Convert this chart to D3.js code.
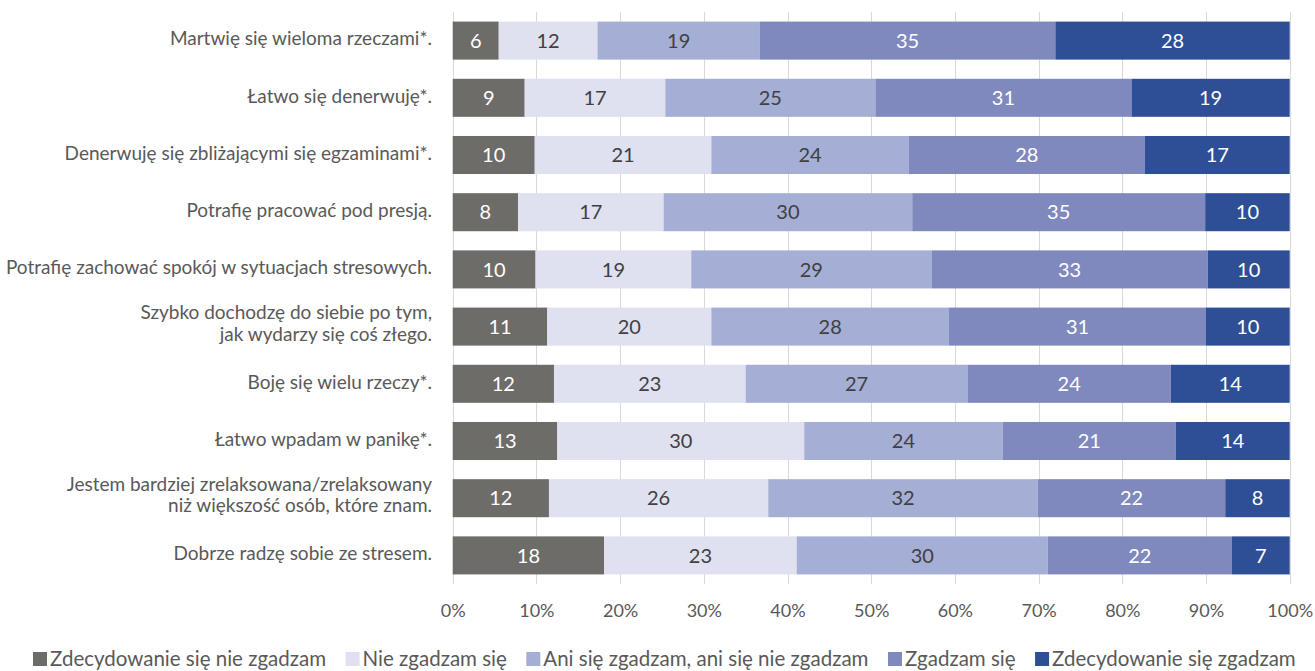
<!DOCTYPE html>
<html>
<head>
<meta charset="utf-8">
<script src="https://cdn.jsdelivr.net/npm/d3@7"></script>
<style>
  html, body { margin: 0; padding: 0; background: #ffffff; }
  svg { display: block; }
</style>
</head>
<body>
<svg id="chart" width="1315" height="671"></svg>
<script>
// ---- Data ----
const categories = [
  ["Martwię się wieloma rzeczami*."],
  ["Łatwo się denerwuję*."],
  ["Denerwuję się zbliżającymi się egzaminami*."],
  ["Potrafię pracować pod presją."],
  ["Potrafię zachować spokój w sytuacjach stresowych."],
  ["Szybko dochodzę do siebie po tym,", "jak wydarzy się coś złego."],
  ["Boję się wielu rzeczy*."],
  ["Łatwo wpadam w panikę*."],
  ["Jestem bardziej zrelaksowana/zrelaksowany", "niż większość osób, które znam."],
  ["Dobrze radzę sobie ze stresem."]
];
const seriesNames = [
  "Zdecydowanie się nie zgadzam",
  "Nie zgadzam się",
  "Ani się zgadzam, ani się nie zgadzam",
  "Zgadzam się",
  "Zdecydowanie się zgadzam"
];
const stronglyDisagree = [5.5, 8.6, 9.8, 7.8, 9.9, 11.3, 12.1, 12.5, 11.5, 18.1];
const disagree         = [11.8, 16.8, 21.1, 17.4, 18.6, 19.6, 22.9, 29.5, 26.2, 23.0];
const neutral          = [19.4, 25.1, 23.6, 29.7, 28.7, 28.4, 26.5, 23.7, 32.2, 30.0];
const agree            = [35.3, 30.6, 28.2, 35.0, 33.0, 30.7, 24.3, 20.7, 22.4, 22.0];
const stronglyAgree    = [28.0, 18.9, 17.3, 10.1, 9.8, 10.0, 14.2, 13.6, 7.7, 6.9];
const xTicks = [0, 0.1, 0.2, 0.3, 0.4, 0.5, 0.6, 0.7, 0.8, 0.9, 1.0];

const seriesValues = [stronglyDisagree, disagree, neutral, agree, stronglyAgree];
const colors = ["#6e6c69", "#dfe0f0", "#a5aed4", "#7f89bd", "#2e4f96"];
const labelColors = ["#ffffff", "#404040", "#404040", "#ffffff", "#ffffff"];

// ---- Layout ----
const svg = d3.select("#chart");
const FONT = "Lato, 'Open Sans', sans-serif";
const plot = { left: 452.7, right: 1289.7, top: 12, bottom: 584 };

const rows = categories.map((c, i) => {
  const r = { key: i };
  seriesNames.forEach((s, j) => { r[s] = seriesValues[j][i]; });
  return r;
});

const stack = d3.stack().keys(seriesNames).offset(d3.stackOffsetExpand);
const stacked = stack(rows);

const x = d3.scaleLinear().domain([0, 1]).range([plot.left, plot.right]);
const y = d3.scaleBand()
  .domain(d3.range(categories.length))
  .range([plot.top, plot.bottom])
  .paddingInner(0.335)
  .paddingOuter(0.1675);

// gridlines
svg.append("g")
  .selectAll("line")
  .data(xTicks)
  .join("line")
  .attr("x1", d => Math.round(x(d)) + 0.5)
  .attr("x2", d => Math.round(x(d)) + 0.5)
  .attr("y1", plot.top)
  .attr("y2", plot.bottom)
  .attr("stroke", "#d9d9d9")
  .attr("stroke-width", 1);

// bars
const layers = svg.append("g")
  .selectAll("g")
  .data(stacked)
  .join("g")
  .attr("fill", (d, i) => colors[i]);

layers.selectAll("rect")
  .data(d => d)
  .join("rect")
  .attr("x", d => x(d[0]))
  .attr("width", d => x(d[1]) - x(d[0]))
  .attr("y", (d, i) => y(i))
  .attr("height", y.bandwidth());

// bar labels
stacked.forEach((layer, si) => {
  svg.append("g")
    .selectAll("text")
    .data(layer)
    .join("text")
    .attr("x", d => (x(d[0]) + x(d[1])) / 2)
    .attr("y", (d, i) => y(i) + y.bandwidth() / 2)
    .attr("dy", "0.36em")
    .attr("text-anchor", "middle")
    .attr("font-family", FONT)
    .attr("font-size", 20)
    .attr("fill", labelColors[si])
    .text((d, i) => Math.round(seriesValues[si][i]));
});

// category axis labels
const cat = svg.append("g");
categories.forEach((lines, i) => {
  const cy = y(i) + y.bandwidth() / 2;
  const lh = 21.5;
  lines.forEach((ln, k) => {
    cat.append("text")
      .attr("text-anchor", "end")
      .attr("font-family", FONT)
      .attr("font-size", 19)
      .attr("fill", "#595959")
      .attr("x", 432)
      .attr("y", cy - (lines.length > 1 ? 3.5 : 2) + (k - (lines.length - 1) / 2) * lh)
      .attr("dy", "0.36em")
      .text(ln);
  });
});

// x axis
const xAxis = d3.axisBottom(x)
  .tickValues(xTicks)
  .tickFormat(d3.format(".0%"))
  .tickSize(0)
  .tickPadding(0);
const gx = svg.append("g")
  .attr("transform", `translate(0, ${plot.bottom})`)
  .call(xAxis);
gx.select(".domain").remove();
gx.selectAll("text")
  .attr("font-family", FONT)
  .attr("font-size", 18)
  .attr("fill", "#595959")
  .attr("y", 27)
  .attr("dy", "0.36em");

// legend
const legend = svg.append("g").attr("transform", "translate(0, 659)");
let lx = 33;
seriesNames.forEach((name, i) => {
  const g = legend.append("g").attr("transform", `translate(${lx},0)`);
  g.append("rect")
    .attr("x", 0).attr("y", -7)
    .attr("width", 14).attr("height", 14)
    .attr("fill", colors[i]);
  const t = g.append("text")
    .attr("x", 17)
    .attr("dy", "0.36em")
    .attr("font-family", FONT)
    .attr("font-size", 20.5)
    .attr("fill", "#595959")
    .text(name);
  const w = t.node().getComputedTextLength();
  lx += 17 + w + 19.5;
});
</script>
</body>
</html>
